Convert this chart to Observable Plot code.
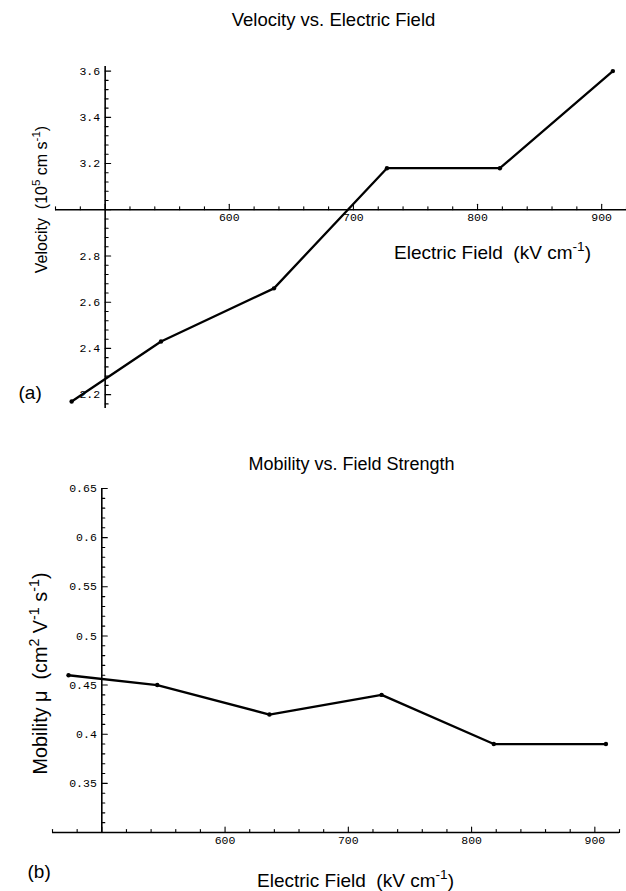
<!DOCTYPE html>
<html>
<head>
<meta charset="utf-8">
<script src="https://cdn.jsdelivr.net/npm/d3@7"></script>
<script src="https://cdn.jsdelivr.net/npm/@observablehq/plot@0.6"></script>
<style>
  body { margin: 0; background: #fff; }
  #chart svg { display: block; }
  #chart svg text { white-space: pre; }
</style>
</head>
<body>
<div id="chart"></div>
<script>
// ---- data ----
const fieldKV  = [473, 545, 636, 727, 818, 909];          // Electric field (kV cm-1)
const velocity = [2.17, 2.43, 2.66, 3.18, 3.18, 3.60];    // Velocity (10^5 cm s-1)
const mobility = [0.46, 0.45, 0.42, 0.44, 0.39, 0.39];    // Mobility (cm2 V-1 s-1)

const fieldDomain    = [460, 920];
const velocityDomain = [2.14, 3.62];
const mobilityDomain = [0.30, 0.65];
const fieldAxisAt    = 500;     // where the vertical axis crosses
const velocityAxisAt = 3.0;     // where the horizontal axis crosses (top)
const mobilityAxisAt = 0.30;    // where the horizontal axis crosses (bottom)

const fieldTickLabels    = [600, 700, 800, 900];
const velocityTickLabels = [2.2, 2.4, 2.6, 2.8, 3.2, 3.4, 3.6];
const mobilityTickLabels = [0.35, 0.4, 0.45, 0.5, 0.55, 0.6, 0.65];

const titleTop    = "Velocity vs. Electric Field";
const titleBottom = "Mobility vs. Field Strength";
const xLabel      = "Electric Field  (kV cm{-1})";
const yLabelTop   = "Velocity  (10{5} cm s{-1})";
const yLabelBot   = "Mobility \u03bc  (cm{2} V{-1} s{-1})";

// ---- tick positions (minor/major) ----
const fieldTicks    = d3.range(23, 47).map(i => ({v: i * 20, major: i % 5 === 0}));
const velocityTicks = d3.range(54, 91).map(i => ({v: +(i * 0.04).toFixed(2), major: i % 5 === 0}));
const mobilityTicks = d3.range(30, 66).map(i => ({v: +(i * 0.01).toFixed(2), major: i % 5 === 0}));

const sans = "'Liberation Sans', Arial, Helvetica, sans-serif";
const mono = "'Liberation Mono', 'Courier New', monospace";
const tickShape = {draw(context, l) { context.moveTo(0, 0); context.lineTo(0, -l); }};

// text placed at an absolute pixel position inside the svg
function label(text, px, py, m, opts) {
  return Plot.text([text], {
    text: d => d, frameAnchor: "top-left",
    dx: px - m.left, dy: py - m.top, textAnchor: "middle",
    fontFamily: sans, fill: "#000", ...opts
  });
}

function tickMarks(ticks, xy, rotate) {
  const common = {...xy, rotate, anchor: "start", shape: tickShape, stroke: "#000", strokeWidth: 1.1};
  return [
    Plot.vector(ticks.filter(d => d.major), {...common, length: 5.5}),
    Plot.vector(ticks.filter(d => !d.major), {...common, length: 3})
  ];
}

function panel({width, height, m, yDomain, yValues, yAxisAt, yTicks, yTickLabels, extra}) {
  const rows = fieldKV.map((f, i) => ({f, v: yValues[i]}));
  return Plot.plot({
    width, height,
    marginLeft: m.left, marginRight: m.right, marginTop: m.top, marginBottom: m.bottom,
    style: {background: "#fff", overflow: "visible"},
    x: {domain: fieldDomain, axis: null},
    y: {domain: yDomain, axis: null},
    marks: [
      Plot.ruleY([yAxisAt], {stroke: "#000", strokeWidth: 1.6}),
      Plot.ruleX([fieldAxisAt], {stroke: "#000", strokeWidth: 1.6}),
      ...tickMarks(fieldTicks, {x: d => d.v, y: () => yAxisAt}, 0),
      ...tickMarks(yTicks, {x: () => fieldAxisAt, y: d => d.v}, 90),
      Plot.text(fieldTickLabels, {x: d => d, y: () => yAxisAt, text: d => String(d), dy: 8,
        fontFamily: mono, fontSize: 11.5, fill: "#000"}),
      Plot.text(yTickLabels, {x: () => fieldAxisAt, y: d => d, text: d => String(d), dx: -5,
        textAnchor: "end", fontFamily: mono, fontSize: 11.5, fill: "#000"}),
      Plot.line(rows, {x: "f", y: "v", stroke: "#000", strokeWidth: 2.3}),
      Plot.dot(rows, {x: "f", y: "v", r: 2.2, fill: "#000"}),
      ...extra(m)
    ]
  });
}

const mTop = {left: 55, right: 0, top: 66, bottom: 32};
const topPanel = panel({
  width: 626, height: 440, m: mTop,
  yDomain: velocityDomain, yValues: velocity, yAxisAt: velocityAxisAt,
  yTicks: velocityTicks, yTickLabels: velocityTickLabels,
  extra: m => [
    label(titleTop, 333, 25, m, {fontSize: 18.5, lineAnchor: "bottom"}),
    label(xLabel, 492, 258, m, {fontSize: 19, lineAnchor: "bottom"}),
    label(yLabelTop, 35, 199, m, {fontSize: 16, rotate: -90}),
    label("(a)", 18, 398, m, {fontSize: 19, lineAnchor: "bottom", textAnchor: "start"})
  ]
});

const mBot = {left: 52, right: 7, top: 48, bottom: 59};
const bottomPanel = panel({
  width: 626, height: 451, m: mBot,
  yDomain: mobilityDomain, yValues: mobility, yAxisAt: mobilityAxisAt,
  yTicks: mobilityTicks, yTickLabels: mobilityTickLabels,
  extra: m => [
    label(titleBottom, 351, 29, m, {fontSize: 18, lineAnchor: "bottom"}),
    label(xLabel, 355, 446, m, {fontSize: 19, lineAnchor: "bottom"}),
    label(yLabelBot, 32, 233, m, {fontSize: 19.8, rotate: -90}),
    label("(b)", 27, 437, m, {fontSize: 19, lineAnchor: "bottom", textAnchor: "start"})
  ]
});

const host = document.getElementById("chart");
host.append(topPanel, bottomPanel);

// turn {..} segments into superscripts
const NS = "http://www.w3.org/2000/svg";
host.querySelectorAll("text").forEach(t => {
  const s = t.textContent;
  if (!s.includes("{")) return;
  const fs = parseFloat(getComputedStyle(t).fontSize) || 16;
  const shift = fs * 0.4;
  t.textContent = "";
  let raised = false;
  for (const p of s.split(/(\{[^}]*\})/).filter(Boolean)) {
    const ts = document.createElementNS(NS, "tspan");
    if (p.startsWith("{")) {
      ts.textContent = p.slice(1, -1);
      ts.setAttribute("font-size", (fs * 0.72).toFixed(1));
      if (!raised) ts.setAttribute("dy", (-shift).toFixed(1));
      raised = true;
    } else {
      ts.textContent = p;
      if (raised) ts.setAttribute("dy", shift.toFixed(1));
      raised = false;
    }
    t.appendChild(ts);
  }
});
</script>
</body>
</html>
